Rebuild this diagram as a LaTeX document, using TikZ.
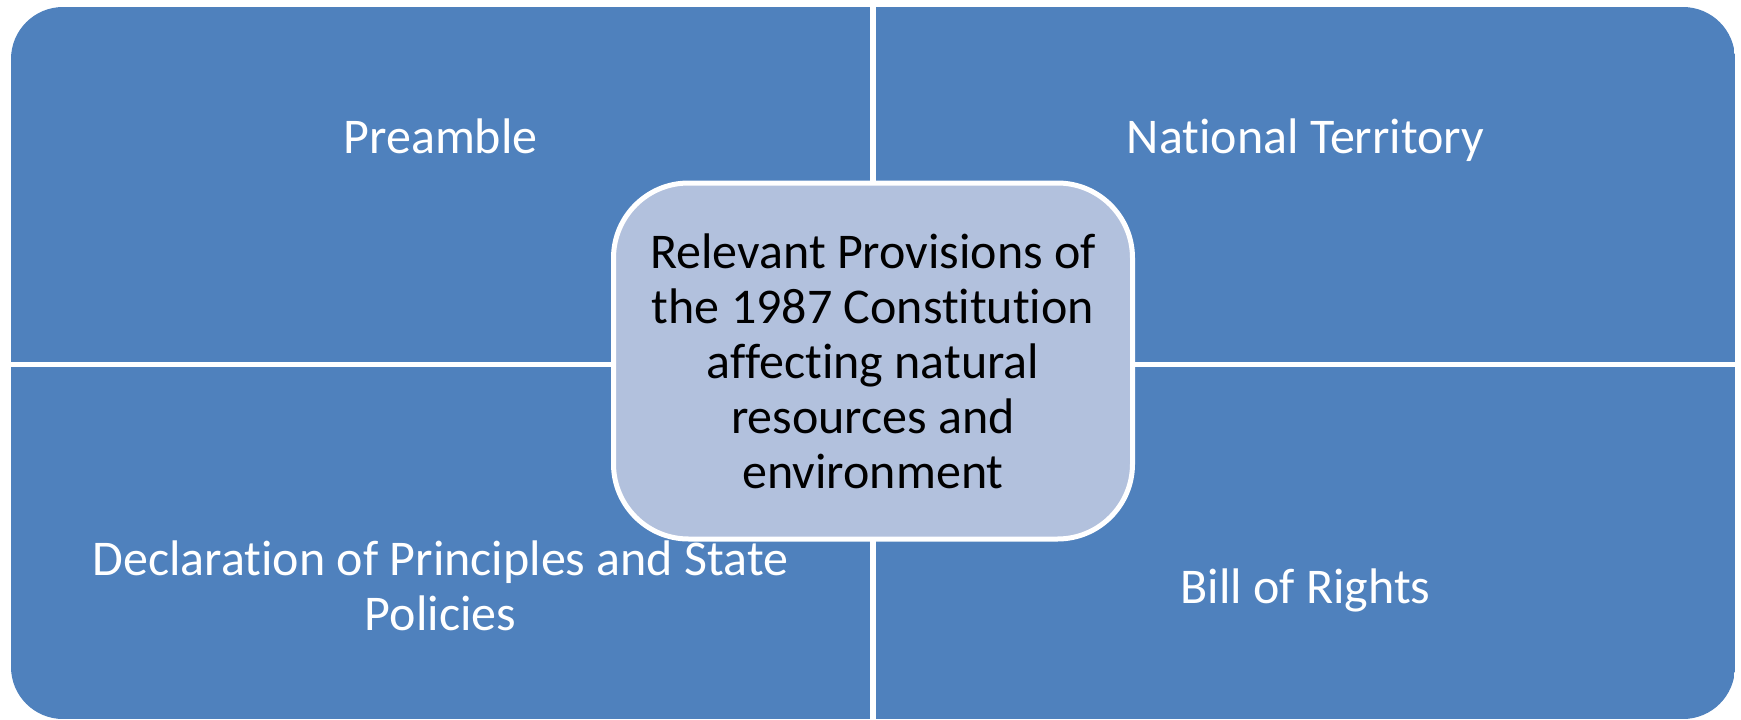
\documentclass[tikz,border=0pt]{standalone}
\usepackage{fontspec}
\setmainfont{Carlito}[Ligatures={NoCommon}]
\definecolor{quadblue}{HTML}{4F81BD}
\definecolor{hubfill}{HTML}{B2C1DD}
\begin{document}
\begin{tikzpicture}[x=1pt,y=-1pt,
  quad/.style={fill=quadblue, draw=none, inner sep=0pt, minimum width=859pt},
  quadlabel/.style={text=white, anchor=base, inner sep=0pt, align=center,
    font=\fontsize{50pt}{55pt}\selectfont},
  hub/.style={rounded corners=75pt, fill=hubfill, draw=white, line width=5pt,
    minimum width=519pt, minimum height=356pt, inner sep=0pt, align=center,
    text=black, font=\fontsize{50pt}{55pt}\selectfont}]
\useasboundingbox (0,0) rectangle (1741,720);

% four quadrants, cut to one rounded outline
\begin{scope}
  \clip[rounded corners=52pt] (11,7) rectangle (1735,719);
  \node[quad, minimum height=355pt] (qtl) at (440.5,184.5) {};
  \node[quad, minimum height=355pt] (qtr) at (1305.5,184.5) {};
  \node[quad, minimum height=352pt] (qbl) at (440.5,543) {};
  \node[quad, minimum height=352pt] (qbr) at (1305.5,543) {};
\end{scope}

% quadrant captions (base anchor sits on the last line)
\node[quadlabel] (ltl) at (440.5,153) {Preamble};
\node[quadlabel] (ltr) at (1305.5,153) {National Territory};
\node[quadlabel] (lbl) at (440.5,630) {Declaration of Principles and State\\Policies};
\node[quadlabel] (lbr) at (1305.5,603) {Bill of Rights};

% central box
\node[hub] (hub) at (873,361) {Relevant Provisions of\\the 1987 Constitution\\affecting natural\\resources and\\environment};
\end{tikzpicture}
\end{document}
